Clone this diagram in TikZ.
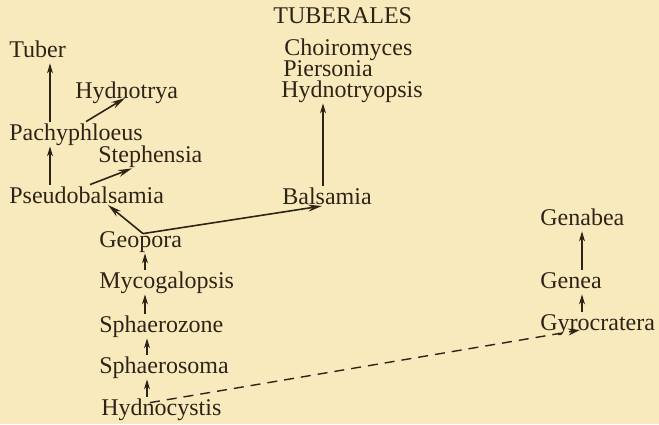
\documentclass[tikz,border=0pt]{standalone}
\usepackage{fontspec}
\setmainfont{Liberation Serif}
\usepackage{xcolor}
\definecolor{paper}{HTML}{F9EABD}
\definecolor{ink}{HTML}{2E2416}
\usepackage{tikz}
\usetikzlibrary{arrows.meta,positioning,calc}

\begin{document}
\begin{tikzpicture}[x=0.5pt,y=-0.5pt,>=Stealth]
\tikzset{
 genus/.style={anchor=base west,inner sep=0.5pt,text height=8.5pt,text depth=2.5pt,text=ink,font=\fontsize{12pt}{14pt}\selectfont},
 arrow/.style={->,line width=0.6pt,draw=ink,-{Stealth[length=5pt,width=3pt]}},
 bigarrow/.style={line width=0.8pt,draw=ink,-{Stealth[length=7pt,width=3.5pt]}},
 link/.style={line width=0.7pt,draw=ink,dash pattern=on 5pt off 3.5pt,-{Stealth[length=6pt,width=3.5pt]}}
}
\useasboundingbox[fill=paper] (0,0) rectangle (659,424);
\node[genus] (title) at (272,23) {TUBERALES};
% left branch
\node[genus] (tuber) at (8,57) {Tuber};
\node[genus] (hydnotrya) at (74,98) {Hydnotrya};
\node[genus] (pach) at (8,140) {Pachyphloeus};
\node[genus] (steph) at (97,162) {Stephensia};
\node[genus] (pseudo) at (8,203) {Pseudobalsamia};
% main stem
\node[genus] (geopora) at (98,247) {Geopora};
\node[genus] (myco) at (98,288) {Mycogalopsis};
\node[genus] (szone) at (98,332) {Sphaerozone};
\node[genus] (ssoma) at (98,373) {Sphaerosoma};
\node[genus] (hydno) at (100,415) {Hydnocystis};
% middle branch
\node[genus] (choiro) at (283,55) {Choiromyces};
\node[genus] (pierso) at (282,76) {Piersonia};
\node[genus] (hyopsis) at (280,97) {Hydnotryopsis};
\node[genus] (bals) at (281,204) {Balsamia};
% right branch
\node[genus] (genabea) at (539,225) {Genabea};
\node[genus] (genea) at (539,288) {Genea};
\node[genus] (gyro) at (539,330) {Gyrocratera};

\coordinate (fork) at ([xshift=22.5pt,yshift=-2.5pt]geopora.north west);
\draw[arrow] ([xshift=21pt]pach.north west)--([xshift=21pt]tuber.south west);
\draw[bigarrow] ([xshift=39pt]pach.north west)--([xshift=25.5pt]hydnotrya.base west);
\draw[arrow] ([xshift=21pt]pseudo.north west)--([xshift=21pt]pach.south west);
\draw[bigarrow] ([xshift=41pt]pseudo.north west)--([xshift=17.5pt]steph.south west);
\draw[bigarrow] (fork)--([xshift=50pt,yshift=-1pt]pseudo.base west);
\draw[bigarrow] (fork)--([xshift=20.5pt,yshift=-1pt]bals.base west);
\draw[arrow] ([xshift=21pt]bals.north west)--([xshift=21pt]bals.north west |- hyopsis.south);
\draw[arrow] ([xshift=23.5pt]myco.north west)--([xshift=23.5pt]geopora.south west);
\draw[arrow] ([xshift=23.5pt]szone.north west)--([xshift=23.5pt]myco.south west);
\draw[arrow] ([xshift=24.5pt]ssoma.north west)--([xshift=24.5pt]szone.south west);
\draw[arrow] ([xshift=23.5pt]hydno.north west)--([xshift=24.5pt]ssoma.south west);
\draw[link] ([xshift=25pt,yshift=-3pt]hydno.north west)--([xshift=20.5pt]gyro.base west);
\draw[arrow] ([xshift=21.5pt]gyro.north west)--([xshift=21.5pt]genea.south west);
\draw[arrow] ([xshift=21.5pt]genea.north west)--([xshift=21.5pt]genabea.south west);
\end{tikzpicture}
\end{document}
